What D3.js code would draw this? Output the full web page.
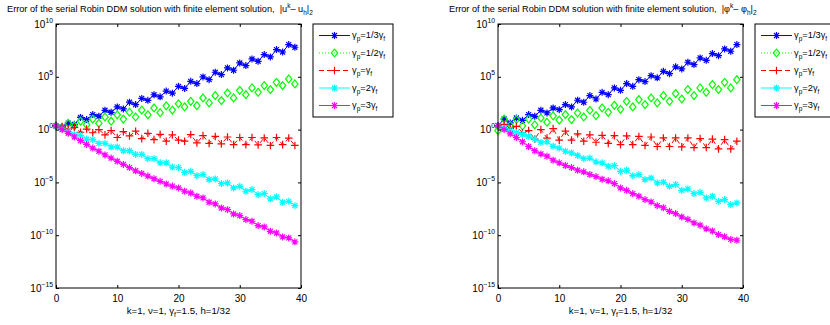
<!DOCTYPE html>
<html><head><meta charset="utf-8">
<script src="https://cdn.jsdelivr.net/npm/d3@7"></script>
<style>
body{margin:0;background:#fff}
svg{display:block}
text{font-family:"Liberation Sans",Arial,Helvetica,sans-serif;fill:#000;white-space:pre}
</style>
</head><body>
<svg id="c" width="830" height="325"></svg>
<script>
// ---------------- data ----------------
const iterations = [0,1,2,3,4,5,6,7,8,9,10,11,12,13,14,15,16,17,18,19,20,21,22,23,24,25,26,27,28,29,30,31,32,33,34,35,36,37,38,39];
const xTicks = [0,10,20,30,40];
const yTickExponents = [10,5,0,-5,-10,-15];
const legendLabels = ["1/3","1/2","","2","3"];

// log10 of the error, left panel |u^k - u_h|_2
const uThird = [0.35,0.25,0.6,0.5,1.15,0.95,1.42,1.26,1.83,1.64,2.15,1.96,2.6,2.37,2.95,2.77,3.3,3.1,3.65,3.45,4.1,3.9,4.57,4.36,4.99,4.73,5.43,5.21,5.84,5.62,6.31,6.06,6.69,6.47,7.1,6.88,7.58,7.35,8.05,7.8];
const uHalf = [0.35,0.2,0.6,0.35,0.8,0.45,1.0,0.6,1.2,0.8,1.4,1.0,1.65,1.2,1.85,1.4,2.05,1.6,2.25,1.85,2.45,2.15,2.68,2.27,3.0,2.53,3.22,2.75,3.47,3.0,3.72,3.31,3.95,3.53,4.17,3.79,4.48,4.17,4.8,4.33];
const uOne = [0.35,0.3,0.05,0.2,-0.25,0.05,-0.3,0.0,-0.5,-0.1,-0.75,-0.2,-0.6,-0.15,-0.85,-0.35,-0.95,-0.45,-1.1,-0.5,-1.0,-1.1,-0.47,-1.26,-0.57,-1.3,-0.65,-1.35,-0.7,-1.42,-0.75,-1.42,-0.75,-1.45,-0.79,-1.5,-0.75,-1.42,-0.8,-1.5];
const uTwo = [0.35,0.05,-0.2,-0.45,-0.55,-0.9,-0.95,-1.3,-1.3,-1.65,-1.65,-2.0,-2.0,-2.35,-2.35,-2.75,-2.75,-3.15,-3.15,-3.55,-3.6,-4.05,-3.95,-4.36,-4.26,-4.73,-4.67,-5.11,-5.05,-5.52,-5.37,-5.84,-5.68,-6.16,-6.06,-6.56,-6.37,-6.88,-6.79,-7.2];
const uThree = [0.35,0.0,-0.35,-0.7,-1.05,-1.4,-1.75,-2.05,-2.4,-2.7,-3.0,-3.3,-3.6,-3.9,-4.15,-4.4,-4.65,-4.9,-5.15,-5.35,-5.52,-5.84,-6.0,-6.31,-6.47,-6.88,-7.04,-7.42,-7.58,-7.99,-8.14,-8.52,-8.68,-9.09,-9.22,-9.63,-9.79,-10.16,-10.26,-10.63];

// log10 of the error, right panel |phi^k - phi_h|_2
const pThird = [0.38,1.0,0.63,1.1,0.88,1.42,1.26,1.83,1.58,2.05,1.89,2.37,2.15,2.78,2.59,3.22,2.9,3.53,3.31,3.95,3.72,4.36,4.1,4.73,4.55,5.11,4.9,5.52,5.3,5.94,5.75,6.38,6.16,6.79,6.56,7.2,7.0,7.64,7.42,8.05];
const pHalf = [-0.1,1.0,0.4,0.95,0.35,1.0,0.45,1.1,0.7,1.3,0.9,1.42,0.95,1.58,1.2,1.83,1.33,2.05,1.64,2.3,1.92,2.68,2.15,2.84,2.37,3.0,2.53,3.22,2.68,3.41,2.9,3.79,3.22,3.95,3.53,4.26,3.79,4.48,3.95,4.73];
const pOne = [0.35,0.5,0.1,0.3,-0.3,-0.1,-0.9,0.0,-0.8,0.1,-1.0,-0.15,-1.0,-0.4,-1.1,-0.5,-1.2,-0.55,-1.3,-0.57,-1.42,-0.6,-1.42,-0.65,-1.5,-0.7,-1.6,-0.79,-1.6,-0.79,-1.64,-0.79,-1.7,-0.85,-1.7,-0.9,-1.83,-0.95,-1.83,-1.1];
const pTwo = [0.38,0.1,-0.1,-0.3,-0.45,-0.63,-0.9,-1.2,-1.15,-1.58,-1.75,-2.05,-2.2,-2.45,-2.75,-2.7,-3.05,-3.15,-3.47,-3.41,-3.95,-3.85,-4.36,-4.26,-4.73,-4.58,-5.05,-4.99,-5.37,-5.21,-5.75,-5.62,-6.06,-5.94,-6.47,-6.31,-6.79,-6.63,-7.1,-6.94];
const pThree = [0.38,0.0,-0.4,-0.75,-1.15,-1.6,-2.0,-2.3,-2.52,-2.9,-3.15,-3.4,-3.6,-3.85,-4.0,-4.25,-4.45,-4.7,-4.85,-5.11,-5.52,-5.75,-6.06,-6.3,-6.63,-6.85,-7.2,-7.4,-7.74,-7.95,-8.27,-8.5,-8.84,-9.05,-9.4,-9.6,-9.94,-10.15,-10.4,-10.48];

// ---------------- styles ----------------
const styles = [
  {color:"#0000ff", dash:null, marker:"star", plotLine:true},
  {color:"#00ff00", dash:"1,2", marker:"diamond", plotLine:false},
  {color:"#ff0000", dash:"5,3", marker:"plus", plotLine:true},
  {color:"#00ffff", dash:null, marker:"star", plotLine:true},
  {color:"#ff00ff", dash:null, marker:"star", plotLine:true}
];
const markerPaths = {
  star:"M-3.5,0H3.5M0,-3.5V3.5M-2.5,-2.5L2.5,2.5M-2.5,2.5L2.5,-2.5",
  diamond:"M0,-3.9L3.2,0L0,3.9L-3.2,0Z",
  plus:"M-3.8,0H3.8M0,-3.8V3.8"
};

const svg = d3.select("#c");
const FS = 9, AFS = 10;

function panel(x0, x1, series, titleVar) {
  const y0 = 24, y1 = 288;
  const x = d3.scaleLinear().domain([0,40]).range([x0,x1]);
  const y = d3.scaleLog().domain([1e-15,1e10]).range([y1,y0]);
  const g = svg.append("g");

  // title
  const t = g.append("text").attr("x", x0-49).attr("y", 12).attr("font-size", 9.2);
  t.append("tspan").text("Error of the serial Robin DDM solution with finite element solution,  |" + titleVar);
  t.append("tspan").attr("font-size", 6.5).attr("dy", -4).text("k");
  t.append("tspan").attr("dy", 4).text("\u2013 " + titleVar);
  t.append("tspan").attr("font-size", 6.5).attr("dy", 3).text("h");
  t.append("tspan").attr("dy", -3).text("|");
  t.append("tspan").attr("font-size", 6.5).attr("dy", 3).text("2");

  // series
  const line = d3.line().x((d,i)=>x(iterations[i])).y(d=>y(Math.pow(10,d)));
  series.forEach((vals, si) => {
    const s = styles[si];
    if (s.plotLine) {
      g.append("path").attr("d", line(vals)).attr("fill","none")
        .attr("stroke", s.color).attr("stroke-width", 1)
        .attr("stroke-dasharray", s.dash);
    }
    g.append("g").selectAll("path").data(vals).join("path")
      .attr("transform", (d,i)=>`translate(${x(iterations[i])},${y(Math.pow(10,d))})`)
      .attr("d", markerPaths[s.marker]).attr("fill","none")
      .attr("stroke", s.color).attr("stroke-width", 1.2);
  });

  // axes (ticks inward)
  const tk = 3;
  const ax = g.append("g").attr("transform",`translate(0,${y1})`)
    .call(d3.axisBottom(x).tickValues(xTicks).tickSize(-tk).tickPadding(tk+4).tickFormat(d3.format("d")));
  const axT = g.append("g").attr("transform",`translate(0,${y0})`)
    .call(d3.axisTop(x).tickValues(xTicks).tickSize(-tk).tickFormat(""));
  const yTickVals = yTickExponents.map(e=>Math.pow(10,e));
  const ayL = g.append("g").attr("transform",`translate(${x0},0)`)
    .call(d3.axisLeft(y).tickValues(yTickVals).tickSize(-tk).tickFormat(""));
  const ayR = g.append("g").attr("transform",`translate(${x1},0)`)
    .call(d3.axisRight(y).tickValues(yTickVals).tickSize(-tk).tickFormat(""));
  [ax,axT,ayL,ayR].forEach(a=>{
    a.select(".domain").remove();
    a.selectAll("line").attr("stroke","#000").attr("stroke-width",1);
    a.selectAll("text").attr("font-size",AFS).attr("font-family",'"Liberation Sans",Arial,sans-serif').attr("fill","#000");
  });
  // y tick labels 10^e
  yTickExponents.forEach(e=>{
    const tt = g.append("text").attr("x", x0-3).attr("y", y(Math.pow(10,e))+3.6)
      .attr("text-anchor","end").attr("font-size",AFS);
    tt.append("tspan").text("10");
    tt.append("tspan").attr("font-size",6.8).attr("dy",-5).text(String(e).replace("-","\u2212"));
  });
  // box
  g.append("rect").attr("x",x0).attr("y",y0).attr("width",x1-x0).attr("height",y1-y0)
    .attr("fill","none").attr("stroke","#000").attr("stroke-width",1);

  // x label
  const xl = g.append("text").attr("x",(x0+x1)/2).attr("y",314).attr("text-anchor","middle").attr("font-size",9.7);
  xl.append("tspan").text("k=1, \u03bd=1, \u03b3");
  xl.append("tspan").attr("font-size",6.8).attr("dy",3).text("f");
  xl.append("tspan").attr("dy",-3).text("=1.5, h=1/32");

  // legend
  const lx = x1 + 12, ly = 24;
  const lg = g.append("g");
  lg.append("rect").attr("x",lx).attr("y",ly).attr("width",80).attr("height",93)
    .attr("fill","#fff").attr("stroke","#000").attr("stroke-width",1);
  const rowY = [35.5, 53, 70.5, 88, 105.5];
  legendLabels.forEach((lab, i)=>{
    const s = styles[i];
    lg.append("line").attr("x1",lx+6).attr("x2",lx+37).attr("y1",rowY[i]).attr("y2",rowY[i])
      .attr("stroke",s.color).attr("stroke-width",1).attr("stroke-dasharray",s.dash);
    lg.append("path").attr("transform",`translate(${lx+21.5},${rowY[i]})`)
      .attr("d",markerPaths[s.marker]).attr("fill","none").attr("stroke",s.color).attr("stroke-width",1.2);
    const tx = lg.append("text").attr("x",lx+39).attr("y",rowY[i]+2.5).attr("font-size",9.3);
    tx.append("tspan").text("\u03b3");
    tx.append("tspan").attr("font-size",6.5).attr("dy",3).text("p");
    tx.append("tspan").attr("dy",-3).text("=" + lab + "\u03b3");
    tx.append("tspan").attr("font-size",6.5).attr("dy",3).text("f");
  });
}

panel(56, 301, [uThird,uHalf,uOne,uTwo,uThree], "u");
panel(498, 743, [pThird,pHalf,pOne,pTwo,pThree], "\u03c6");
</script>
</body></html>
